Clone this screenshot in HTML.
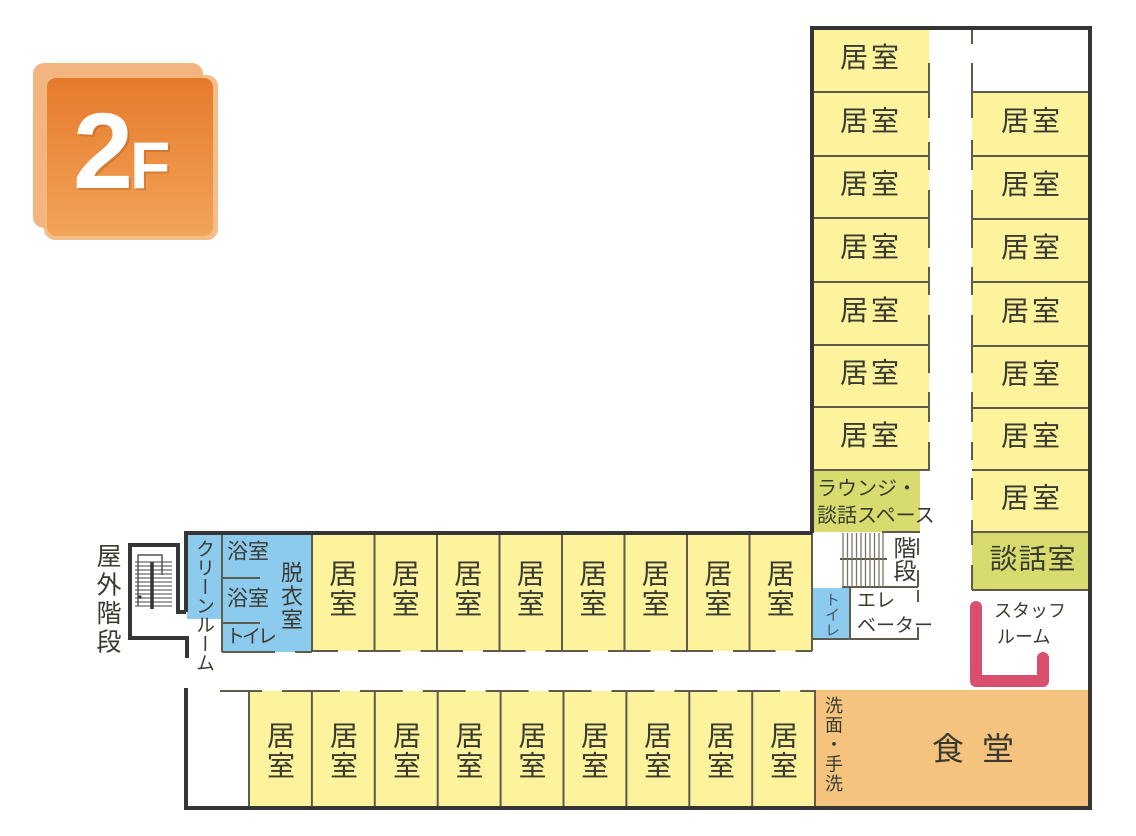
<!DOCTYPE html>
<html><head><meta charset="utf-8">
<style>
body{margin:0;width:1136px;height:836px;background:#fff;position:relative;overflow:hidden;font-family:"Liberation Sans","Noto Sans CJK JP",sans-serif;}
svg{position:absolute;left:0;top:0}
.v{position:absolute;writing-mode:vertical-rl;line-height:1;color:#3a3a32;font-family:"Liberation Sans","Noto Sans CJK JP",sans-serif;white-space:nowrap}
</style></head><body>
<svg width="1136" height="836" viewBox="0 0 1136 836" xmlns="http://www.w3.org/2000/svg">
<defs>
<linearGradient id="og" x1="0" y1="0" x2="0" y2="1">
<stop offset="0" stop-color="#e67a2c"/><stop offset="1" stop-color="#f2a458"/>
</linearGradient>
</defs>
<!-- badge -->
<rect x="33" y="63" width="170" height="165" rx="11" fill="#f0a868" opacity="0.85"/>
<rect x="44" y="75" width="174" height="165" rx="11" fill="#f3b77e" opacity="0.9"/>
<rect x="47" y="78" width="166" height="158" rx="9" fill="url(#og)"/>
<g font-family="Liberation Sans, sans-serif" font-weight="bold">
<text x="75" y="190" font-size="108" fill="#a9521a" opacity="0.35">2</text>
<text x="132" y="190" font-size="66" fill="#a9521a" opacity="0.35">F</text>
<text x="73" y="188" font-size="108" fill="#fff">2</text>
<text x="130" y="188" font-size="66" fill="#fff">F</text>
</g>

<!-- fills -->
<g>
<rect x="812" y="28" width="117" height="442" fill="#fcf39c"/>
<rect x="972" y="92" width="118" height="440" fill="#fcf39c"/>
<rect x="972" y="532" width="118" height="58" fill="#d8db6d"/>
<rect x="812" y="470" width="108" height="62" fill="#d8db6d"/>
<rect x="312" y="533" width="500" height="118" fill="#fcf39c"/>
<rect x="249" y="691" width="566" height="117" fill="#fcf39c"/>
<rect x="815" y="690" width="275" height="118" fill="#f4c47e"/>
<rect x="187" y="533" width="35" height="86" fill="#8ccbed"/>
<rect x="222" y="533" width="90" height="119" fill="#8ccbed"/>
<rect x="813" y="588" width="37" height="51" fill="#8ccbed"/>
</g>

<!-- inner lines -->
<g stroke="#5e5a4c" stroke-width="2" fill="none">
<!-- right column left rooms -->
<path d="M812 92H929M812 156H929M812 218H929M812 282H929M812 345H929M812 407H929M812 470H929"/>
<path d="M929 63V118M929 142V170M929 190V248M929 267V295M929 315V373M929 392V422M929 442V471"/>
<!-- right column right rooms -->
<path d="M972 92H1090M972 156H1090M972 219H1090M972 282H1090M972 346H1090M972 408H1090M972 470H1090M972 532H1090M972 590H1090"/>
<path d="M972 28V44M972 63V118M972 140V170M972 190V248M972 267V295M972 315V373M972 392V422M972 442V460M972 478V500M972 520V545M972 565V590"/>
<!-- upper wing rooms -->
<path d="M312 533V652M374.5 533V651M437 533V651M499.5 533V651M562 533V651M624.5 533V651M687 533V651M749.5 533V651M812 533V651"/>
<path d="M312 651H338M358 651H400.5M420.5 651H463M483 651H525.5M545.5 651H588M608 651H650.5M670.5 651H713M733 651H775.5M795.5 651H812"/>
<!-- bath -->
<path d="M222 533V652M222 578H260M222 623H260M222 652H275M295 652H312"/>
<!-- bottom rooms -->
<path d="M249 691V808M311.9 691V808M374.8 691V808M437.7 691V808M500.6 691V808M563.5 691V808M626.4 691V808M689.3 691V808M752.2 691V808M815 690V808"/>
<path d="M220 691H262M282 691H339.9M359.9 691H402.8M422.8 691H465.7M485.7 691H528.6M548.6 691H591.5M611.5 691H654.4M674.4 691H717.3M737.3 691H780.2M800.2 691H815"/>
<!-- stairs / elevator right -->
<path d="M882 532H920M918 538V555M918 570V587M842 587H918M850 587V639M812 639H918M918 590V602M918 627V640M840 559H887"/>
</g>
<g stroke="#7a776a" stroke-width="1.3">
<path d="M843 533V587M847.5 533V587M852 533V587M856.5 533V587M861 533V587M865.5 533V587M870 533V587M874.5 533V587M879 533V587M883 533V587"/>
</g>

<!-- left outdoor stairs -->
<g stroke="#6a6a6a" stroke-width="1.2">
<path d="M135 562H172M135 566H172M135 570H172M135 574H172M135 578H172M135 582H172M135 586H172M135 590H172M135 594H172M135 598H172M135 602H172M135 606H172"/>
</g>
<path d="M138 606V555H162V575" stroke="#555" stroke-width="1.5" fill="none"/>
<path d="M152 562V609" stroke="#333" stroke-width="3.5"/>
<circle cx="140" cy="597" r="1.6" fill="#333"/>

<!-- outer walls -->
<g stroke="#353535" stroke-width="4" fill="none" stroke-linejoin="miter">
<path d="M812 533V28H1090V808H186V688"/>
<path d="M186 612V533H812"/>
<path d="M186 612H178V545H130V638H187V658"/>
</g>

<!-- staff room counter -->
<path d="M976 607V681H1043V658" stroke="#d9506e" stroke-width="12" fill="none" stroke-linecap="round" stroke-linejoin="round"/>

<!-- horizontal texts -->
<g font-family="Liberation Sans, Noto Sans CJK JP, sans-serif" font-size="28" fill="#3a3a30" text-anchor="middle" dominant-baseline="central" letter-spacing="3">
<text x="871" y="57.5">居室</text>
<text x="871" y="121">居室</text>
<text x="871" y="184">居室</text>
<text x="871" y="247">居室</text>
<text x="871" y="310.5">居室</text>
<text x="871" y="373">居室</text>
<text x="871" y="435.5">居室</text>
<text x="1032" y="121">居室</text>
<text x="1032" y="184.5">居室</text>
<text x="1032" y="247.5">居室</text>
<text x="1032" y="311">居室</text>
<text x="1032" y="374">居室</text>
<text x="1032" y="436">居室</text>
<text x="1032" y="498">居室</text>
<text x="1033" y="559" letter-spacing="1">談話室</text>
</g>
<g font-family="Liberation Sans, Noto Sans CJK JP, sans-serif" font-size="28" fill="#3a3a30" text-anchor="middle" dominant-baseline="central">
<text x="343.3" y="574">居</text><text x="343.3" y="604">室</text>
<text x="405.8" y="574">居</text><text x="405.8" y="604">室</text>
<text x="468.3" y="574">居</text><text x="468.3" y="604">室</text>
<text x="530.8" y="574">居</text><text x="530.8" y="604">室</text>
<text x="593.3" y="574">居</text><text x="593.3" y="604">室</text>
<text x="655.8" y="574">居</text><text x="655.8" y="604">室</text>
<text x="718.3" y="574">居</text><text x="718.3" y="604">室</text>
<text x="780.8" y="574">居</text><text x="780.8" y="604">室</text>
<text x="281" y="736">居</text><text x="281" y="766">室</text>
<text x="344" y="736">居</text><text x="344" y="766">室</text>
<text x="407" y="736">居</text><text x="407" y="766">室</text>
<text x="469.5" y="736">居</text><text x="469.5" y="766">室</text>
<text x="532.5" y="736">居</text><text x="532.5" y="766">室</text>
<text x="595" y="736">居</text><text x="595" y="766">室</text>
<text x="658" y="736">居</text><text x="658" y="766">室</text>
<text x="721" y="736">居</text><text x="721" y="766">室</text>
<text x="784" y="736">居</text><text x="784" y="766">室</text>
</g>
<g font-family="Liberation Sans, Noto Sans CJK JP, sans-serif" fill="#3a3a30" dominant-baseline="central">
<text x="817" y="489" font-size="20">ラウンジ・</text>
<text x="817" y="516" font-size="20">談話スペース</text>
<text x="857" y="601" font-size="19">エレ</text>
<text x="857" y="626" font-size="19">ベーター</text>
<text x="227" y="552" font-size="21">浴室</text>
<text x="227" y="599" font-size="21">浴室</text>
<text x="226" y="637" font-size="19" letter-spacing="-3">トイレ</text>
<text x="994" y="611" font-size="18">スタッフ</text>
<text x="997" y="637" font-size="18">ルーム</text>
<text x="932" y="749" font-size="32" letter-spacing="18">食堂</text>
</g>
</svg>

<div class="v" style="left:94px;top:543px;font-size:25px;letter-spacing:3.5px;width:25px;">屋外階段</div>
<div class="v" style="left:194px;top:539px;font-size:19px;letter-spacing:0px;width:19px;">クリーンルーム</div>
<div class="v" style="left:279px;top:561px;font-size:22px;letter-spacing:1.5px;width:22px;">脱衣室</div>
<div class="v" style="left:891px;top:536px;font-size:23px;letter-spacing:0px;width:23px;">階段</div>
<div class="v" style="left:824px;top:592px;font-size:15px;letter-spacing:0px;width:15px;color:#4a5560;">トイレ</div>
<div class="v" style="left:824px;top:696px;font-size:18px;letter-spacing:1.5px;width:18px;">洗面・手洗</div>
</body></html>
